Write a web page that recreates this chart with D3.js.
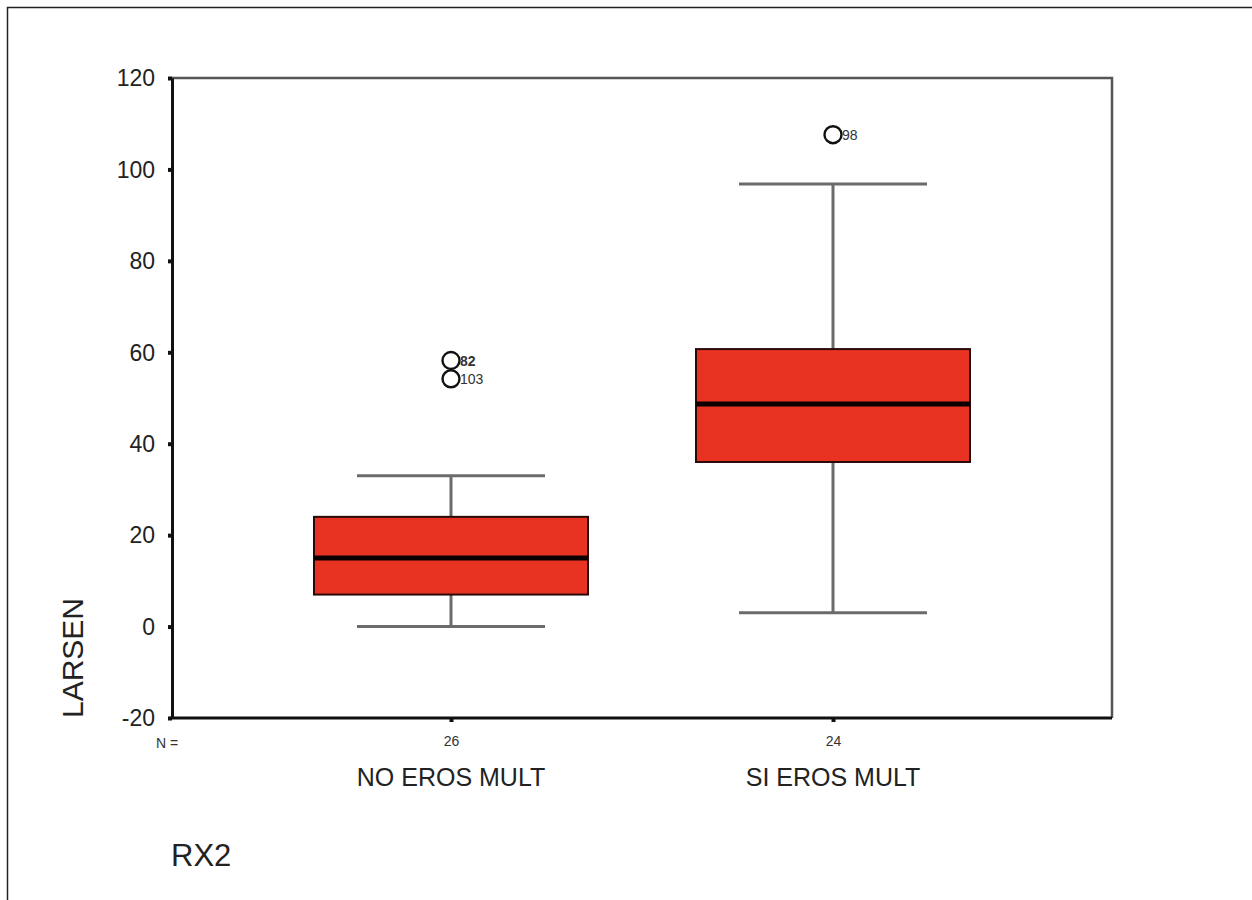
<!DOCTYPE html>
<html><head><meta charset="utf-8">
<script src="https://cdn.jsdelivr.net/npm/d3@7"></script>
<style>body{margin:0;background:#fff}svg{display:block}text{font-family:"Liberation Sans",Arial,sans-serif}</style>
</head><body>
<svg id="c" width="1252" height="900"></svg>
<script>
const categories = ["NO EROS MULT", "SI EROS MULT"];
const counts = [26, 24];
const whiskerLow = [0, 3];
const q1 = [7, 36];
const median = [15, 48.7];
const q3 = [24, 60.7];
const whiskerHigh = [33, 96.8];
const outlierGroup = [0, 0, 1];
const outlierValue = [58.2, 54.2, 107.6];
const outlierLabel = ["82", "103", "98"];
const yTicks = [-20, 0, 20, 40, 60, 80, 100, 120];

const svg = d3.select("#c");
const L = 172, T = 78, R = 1112, B = 718;
const y = d3.scaleLinear().domain([-20, 120]).range([B, T]);
const x = d3.scalePoint().domain(categories).range([451, 833]);
const boxHalf = 137, capHalf = 94;

// outer border
svg.append("path").attr("d", "M7.5,900 V7.5 H1252").attr("fill", "none").attr("stroke", "#222").attr("stroke-width", 1.5);

// frame top/right (gray)
svg.append("path").attr("d", `M${L},${T} H${R} V${B}`).attr("fill", "none").attr("stroke", "#555").attr("stroke-width", 2.5);

// y axis
const ya = svg.append("g").attr("transform", `translate(${L},0)`)
  .call(d3.axisLeft(y).tickValues(yTicks).tickSize(4).tickSizeOuter(0).tickPadding(13).tickFormat(d => String(d)));
ya.select(".domain").attr("stroke", "#111").attr("stroke-width", 3);
ya.selectAll(".tick line").attr("stroke", "#111").attr("stroke-width", 4);
ya.selectAll(".tick text").attr("font-size", 23).attr("fill", "#222").attr("dy", "0.34em")
  .attr("font-family", '"Liberation Sans",Arial,sans-serif');

// x axis
const xa = svg.append("g").attr("transform", `translate(0,${B})`)
  .call(d3.axisBottom(x).tickSize(4).tickSizeOuter(0).tickFormat((d, i) => counts[i]).tickPadding(14));
xa.select(".domain").remove();
xa.append("line").attr("x1", L - 2).attr("x2", R).attr("stroke", "#111").attr("stroke-width", 3);
xa.selectAll(".tick line").attr("stroke", "#111").attr("stroke-width", 4);
xa.selectAll(".tick text").attr("font-size", 14).attr("fill", "#333").attr("font-family", '"Liberation Sans",Arial,sans-serif');

svg.append("text").attr("x", 156).attr("y", 748).attr("font-size", 14).attr("fill", "#333").text("N =");

svg.selectAll("text.cat").data(categories).join("text").attr("class", "cat")
  .attr("x", d => x(d)).attr("y", 786).attr("text-anchor", "middle")
  .attr("font-size", 25).attr("fill", "#222").text(d => d);

svg.append("text").attr("transform", "translate(83,658) rotate(-90)").attr("text-anchor", "middle")
  .attr("font-size", 30).attr("fill", "#222").text("LARSEN");
svg.append("text").attr("x", 171).attr("y", 866).attr("font-size", 31).attr("fill", "#222").text("RX2");

// boxes
const g = svg.append("g");
categories.forEach((c, i) => {
  const cx = x(c);
  const ws = {stroke: "#6b6b6b", w: 3};
  g.append("line").attr("x1", cx).attr("x2", cx).attr("y1", y(q3[i])).attr("y2", y(whiskerHigh[i])).attr("stroke", ws.stroke).attr("stroke-width", ws.w);
  g.append("line").attr("x1", cx).attr("x2", cx).attr("y1", y(q1[i])).attr("y2", y(whiskerLow[i])).attr("stroke", ws.stroke).attr("stroke-width", ws.w);
  g.append("line").attr("x1", cx - capHalf).attr("x2", cx + capHalf).attr("y1", y(whiskerHigh[i])).attr("y2", y(whiskerHigh[i])).attr("stroke", ws.stroke).attr("stroke-width", ws.w);
  g.append("line").attr("x1", cx - capHalf).attr("x2", cx + capHalf).attr("y1", y(whiskerLow[i])).attr("y2", y(whiskerLow[i])).attr("stroke", ws.stroke).attr("stroke-width", ws.w);
  g.append("rect").attr("x", cx - boxHalf).attr("width", 2 * boxHalf)
    .attr("y", y(q3[i])).attr("height", y(q1[i]) - y(q3[i]))
    .attr("fill", "#e83323").attr("stroke", "#2a0a08").attr("stroke-width", 2);
  g.append("line").attr("x1", cx - boxHalf).attr("x2", cx + boxHalf).attr("y1", y(median[i])).attr("y2", y(median[i])).attr("stroke", "#0a0000").attr("stroke-width", 5);
});

// outliers
outlierValue.forEach((v, i) => {
  const cx = x(categories[outlierGroup[i]]);
  g.append("circle").attr("cx", cx).attr("cy", y(v)).attr("r", 8.5).attr("fill", "#fff").attr("stroke", "#111").attr("stroke-width", 2.4);
  g.append("text").attr("x", cx + 9).attr("y", y(v) + 5).attr("font-size", 14).attr("fill", "#333")
    .attr("font-weight", outlierLabel[i] === "82" ? "bold" : "normal").text(outlierLabel[i]);
});
</script>
</body></html>
